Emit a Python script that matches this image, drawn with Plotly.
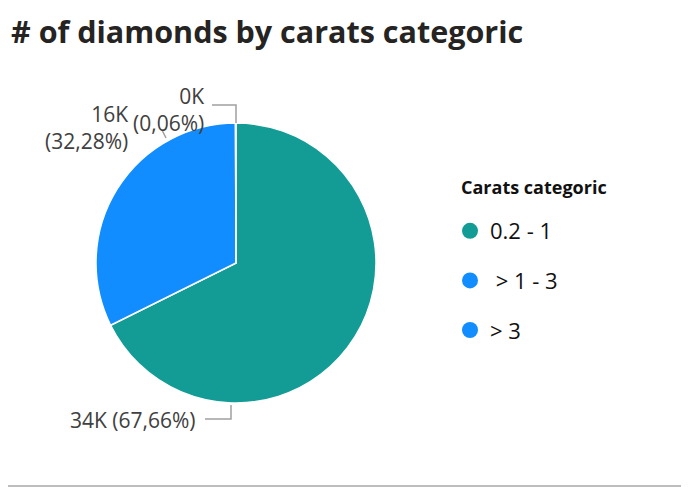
import plotly.graph_objects as go

# ---- data ----
categories = ["0.2 - 1", " > 1 - 3", "> 3"]
counts = [34043, 16241, 30]
colors = ["#129C95", "#118DFF", "#118DFF"]
title_text = "# of diamonds by carats categoric"
legend_title = "Carats categoric"

W, H = 689, 487
OFF = 8  # page body margin
total = sum(counts)


def px(x):
    return (x - OFF) / W


def py(y):
    return 1 - (y - OFF) / H


def fmt(v):
    pct = f"{v / total * 100:.2f}".replace(".", ",")
    return f"{round(v / 1000):.0f}K", f"({pct}%)"


# pie geometry (screen pixels)
cx, cy, r = 236, 263, 140

fig = go.Figure()
fig.add_trace(go.Pie(
    labels=categories,
    values=counts,
    sort=False,
    direction="clockwise",
    rotation=0,
    marker=dict(colors=colors, line=dict(color="white", width=1.5)),
    textinfo="none",
    hoverinfo="skip",
    showlegend=False,
    domain=dict(x=[px(cx - r), px(cx + r)], y=[py(cy + r), py(cy - r)]),
))

# legend entries with circle markers
for name, col in zip(categories, colors):
    fig.add_trace(go.Scatter(
        x=[None], y=[None], mode="markers", name=name,
        marker=dict(color=col, size=16, symbol="circle"),
        legendgroup=name, showlegend=True,
    ))

lab_font = dict(family="Open Sans", size=21, color="#404040")
line_col = "#A0A0A0"

k0, p0 = fmt(counts[0])
k1, p1 = fmt(counts[1])
k2, p2 = fmt(counts[2])

annotations = [
    dict(text=f"<b>{title_text}</b>", x=px(9), y=1, xref="paper", yref="paper",
         xanchor="left", yanchor="top", showarrow=False,
         font=dict(family="Open Sans", size=30.5, color="#252423")),
    dict(text=f"{k0} {p0}", x=px(198), y=py(420), xref="paper", yref="paper",
         xanchor="right", yanchor="middle", showarrow=False, font=lab_font),
    dict(text=f"{k1}<br>{p1}", x=px(130), y=py(127), xref="paper", yref="paper",
         xanchor="right", yanchor="middle", showarrow=False, font=lab_font, align="right"),
    dict(text=f"{k2}<br>{p2}", x=px(206), y=py(109), xref="paper", yref="paper",
         xanchor="right", yanchor="middle", showarrow=False, font=lab_font, align="right"),
    dict(text=f"<b>{legend_title}</b>", x=px(459), y=py(187), xref="paper", yref="paper",
         xanchor="left", yanchor="middle", showarrow=False,
         font=dict(family="Open Sans", size=18, color="#111111")),
]

shapes = [
    # leader lines
    dict(type="path", xref="paper", yref="paper",
         path=f"M {px(231)} {py(405)} L {px(231)} {py(419)} L {px(205)} {py(419)}",
         line=dict(color=line_col, width=1.5)),
    dict(type="path", xref="paper", yref="paper",
         path=f"M {px(166)} {py(138)} L {px(162)} {py(130)}",
         line=dict(color=line_col, width=1.5)),
    dict(type="path", xref="paper", yref="paper",
         path=f"M {px(212)} {py(105)} L {px(236)} {py(105)} L {px(236)} {py(123)}",
         line=dict(color=line_col, width=1.5)),
    # bottom frame shadow
    dict(type="rect", xref="paper", yref="paper", x0=0, x1=1, y0=py(487), y1=py(485),
         line=dict(width=0), fillcolor="#BDBDBD"),
]

fig.update_layout(
    width=W, height=H,
    margin=dict(l=0, r=0, t=0, b=0),
    paper_bgcolor="white", plot_bgcolor="white",
    xaxis=dict(visible=False), yaxis=dict(visible=False),
    annotations=annotations,
    shapes=shapes,
    legend=dict(
        font=dict(family="Open Sans", size=22, color="#111111"),
        x=px(450), y=py(210), xanchor="left", yanchor="top",
        tracegroupgap=18, itemsizing="trace",
        bgcolor="rgba(0,0,0,0)",
    ),
)

fig.write_html("out.html")
